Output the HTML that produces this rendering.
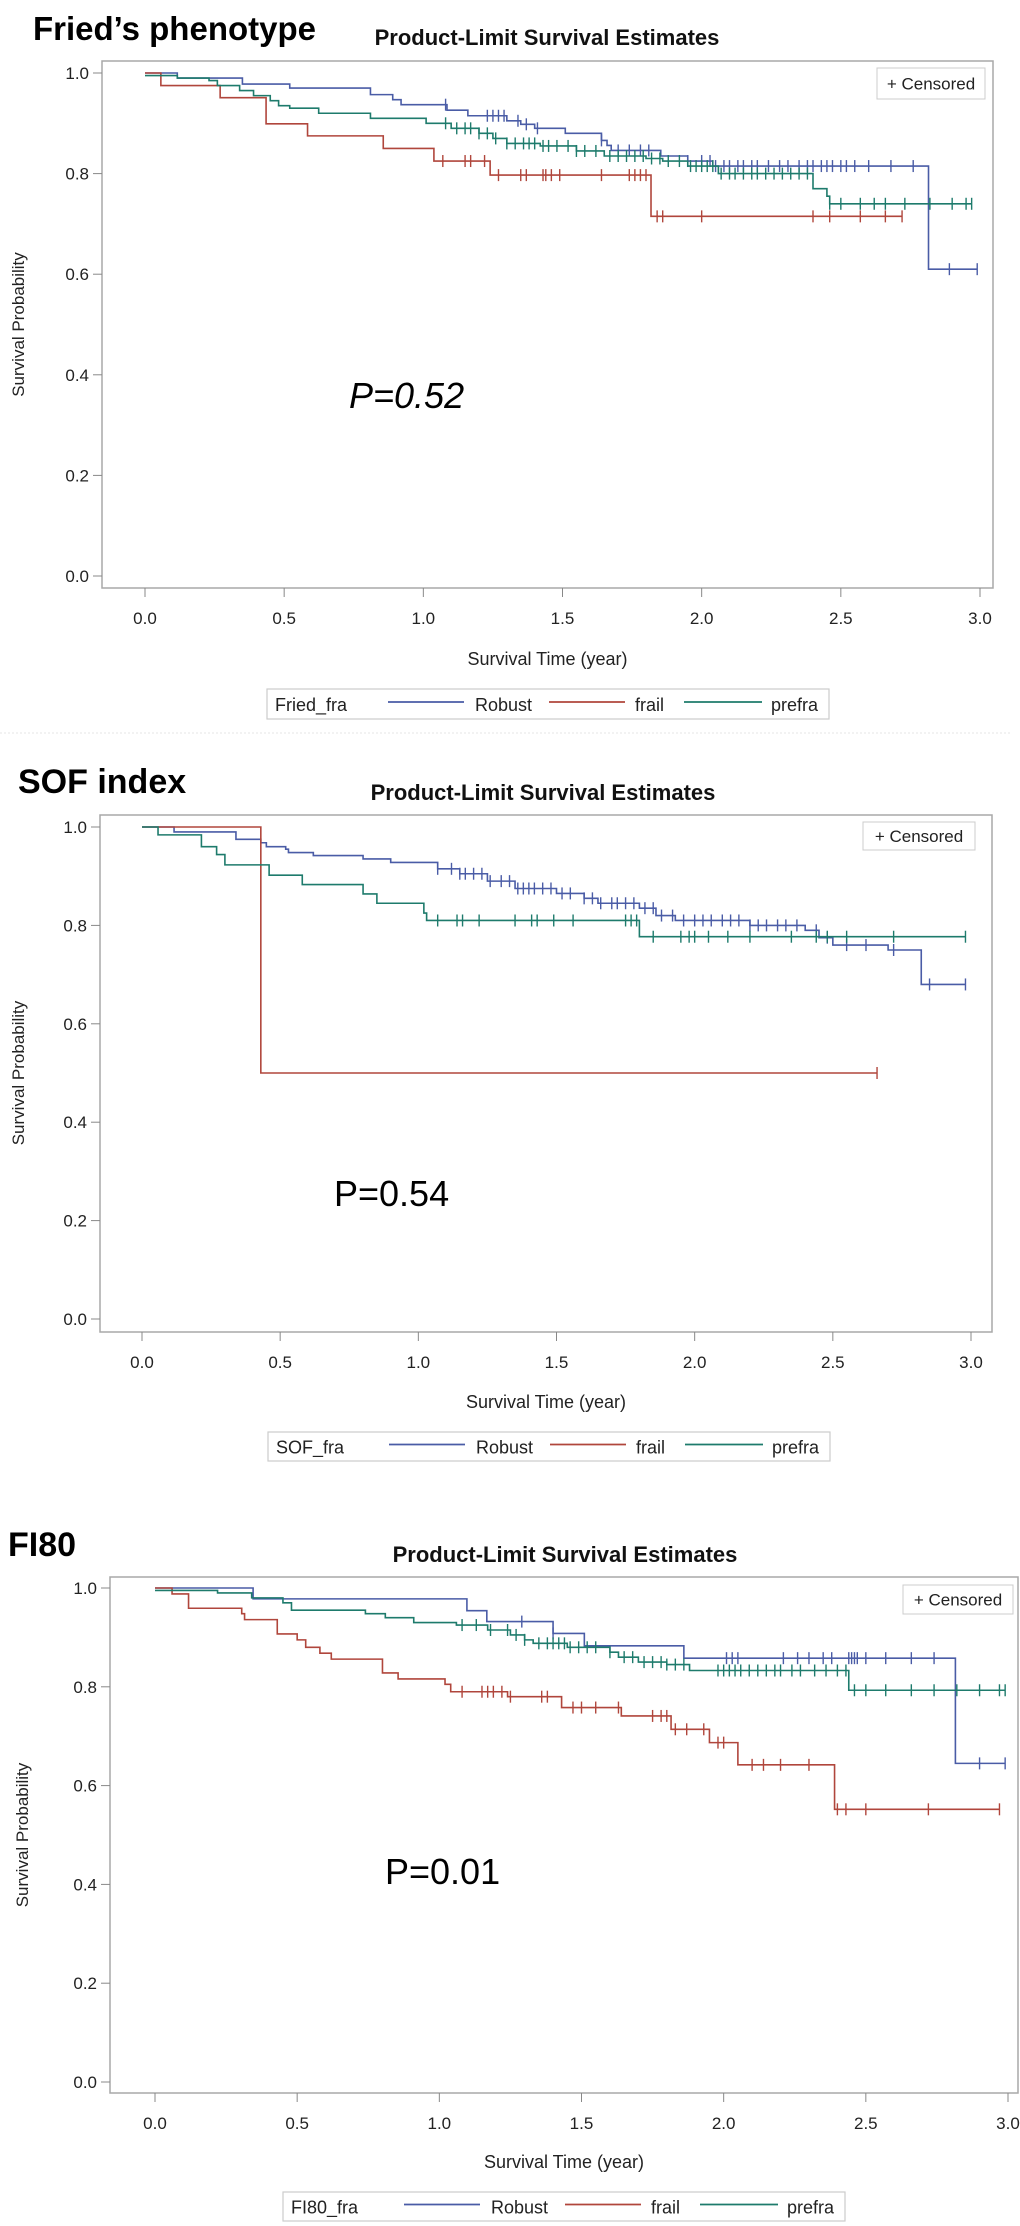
<!DOCTYPE html>
<html><head><meta charset="utf-8"><style>
body{margin:0;background:#fff;width:1020px;height:2226px;overflow:hidden}
svg{display:block}
text{font-family:"Liberation Sans",sans-serif}
</style></head><body>
<svg id="fig" width="1020" height="2226" viewBox="0 0 1020 2226" xmlns="http://www.w3.org/2000/svg"></svg>
<script>
// ---- Panel 1: Fried's phenotype ----
const friedRobustT=[0,0.116,0.35,0.52,0.81,0.89,0.92,1.085,1.16,1.3,1.35,1.40,1.51,1.64,1.66,1.675,1.853,1.95,2.04,2.815];
const friedRobustS=[1,0.99,0.978,0.97,0.957,0.947,0.937,0.926,0.915,0.905,0.898,0.89,0.88,0.866,0.856,0.846,0.835,0.825,0.815,0.61];
const friedRobustC=[1.08,1.23,1.25,1.27,1.29,1.34,1.37,1.41,1.64,1.70,1.74,1.78,1.81,1.95,2.0,2.03,2.05,2.08,2.1,2.13,2.15,2.18,2.2,2.24,2.28,2.31,2.35,2.38,2.4,2.43,2.45,2.47,2.5,2.52,2.55,2.6,2.68,2.76,2.89,2.99];
const friedFrailT=[0,0.057,0.27,0.435,0.584,0.856,1.038,1.24,1.818];
const friedFrailS=[1,0.975,0.951,0.899,0.875,0.85,0.825,0.797,0.715];
const friedFrailC=[1.07,1.15,1.17,1.22,1.27,1.35,1.37,1.43,1.44,1.46,1.49,1.64,1.74,1.76,1.78,1.80,1.84,1.86,2.0,2.4,2.46,2.57,2.66,2.72];
const friedPrefT=[0,0.116,0.23,0.26,0.34,0.39,0.45,0.48,0.52,0.624,0.81,1.01,1.1,1.2,1.25,1.3,1.42,1.55,1.65,1.8,1.86,1.95,2.06,2.4,2.45,2.46];
const friedPrefS=[0.995,0.99,0.985,0.975,0.965,0.955,0.945,0.935,0.93,0.92,0.91,0.90,0.89,0.88,0.87,0.86,0.855,0.845,0.835,0.83,0.825,0.815,0.80,0.77,0.755,0.74];
const friedPrefC=[1.08,1.12,1.15,1.17,1.2,1.23,1.26,1.3,1.33,1.36,1.38,1.4,1.43,1.45,1.48,1.52,1.55,1.58,1.62,1.67,1.7,1.73,1.76,1.79,1.82,1.85,1.88,1.92,1.96,1.98,2.0,2.02,2.04,2.07,2.1,2.12,2.15,2.18,2.2,2.23,2.26,2.29,2.32,2.35,2.38,2.46,2.5,2.57,2.62,2.66,2.73,2.82,2.9,2.95,2.97];
// ---- Panel 2: SOF index ----
const sofRobustT=[0,0.116,0.34,0.43,0.45,0.52,0.53,0.62,0.80,0.90,1.07,1.15,1.25,1.35,1.5,1.6,1.65,1.8,1.86,1.93,2.2,2.4,2.45,2.5,2.7,2.82];
const sofRobustS=[1,0.99,0.975,0.968,0.96,0.955,0.948,0.942,0.935,0.928,0.915,0.905,0.89,0.875,0.865,0.855,0.845,0.835,0.82,0.81,0.80,0.79,0.775,0.76,0.75,0.68];
const sofRobustC=[1.07,1.12,1.15,1.17,1.2,1.23,1.26,1.3,1.33,1.36,1.38,1.4,1.42,1.45,1.48,1.52,1.55,1.6,1.63,1.66,1.7,1.72,1.75,1.78,1.82,1.85,1.88,1.92,1.96,2.0,2.03,2.06,2.1,2.13,2.16,2.2,2.23,2.26,2.3,2.33,2.37,2.44,2.48,2.55,2.62,2.72,2.85,2.98];
const sofFrailT=[0,0.43];
const sofFrailS=[1,0.5];
const sofFrailC=[2.66];
const sofPrefT=[0,0.058,0.215,0.27,0.30,0.46,0.58,0.80,0.85,1.02,1.03,1.80];
const sofPrefS=[1,0.984,0.96,0.944,0.923,0.902,0.883,0.864,0.845,0.825,0.81,0.777];
const sofPrefC=[1.07,1.14,1.16,1.22,1.35,1.41,1.43,1.49,1.56,1.75,1.77,1.79,1.85,1.95,1.98,2.0,2.05,2.12,2.2,2.35,2.44,2.48,2.55,2.72,2.98];
// ---- Panel 3: FI80 ----
const fiRobustT=[0,0.345,1.097,1.167,1.40,1.51,1.86,2.815];
const fiRobustS=[1,0.978,0.954,0.932,0.908,0.883,0.858,0.645];
const fiRobustC=[1.29,1.40,2.01,2.03,2.05,2.21,2.26,2.3,2.35,2.38,2.44,2.45,2.46,2.47,2.5,2.57,2.66,2.74,2.9,2.99];
const fiFrailT=[0,0.06,0.118,0.305,0.315,0.43,0.5,0.53,0.58,0.62,0.80,0.855,1.02,1.04,1.24,1.43,1.64,1.815,1.95,2.05,2.39];
const fiFrailS=[1,0.988,0.959,0.948,0.936,0.907,0.895,0.88,0.868,0.856,0.828,0.816,0.805,0.79,0.78,0.758,0.741,0.714,0.687,0.642,0.552];
const fiFrailC=[1.08,1.15,1.17,1.19,1.22,1.25,1.36,1.38,1.47,1.5,1.55,1.63,1.75,1.78,1.8,1.83,1.87,1.93,1.98,2.0,2.1,2.14,2.2,2.3,2.4,2.43,2.5,2.72,2.97];
const fiPrefT=[0,0.22,0.34,0.45,0.48,0.74,0.81,0.91,1.06,1.17,1.25,1.3,1.33,1.45,1.6,1.63,1.7,1.8,1.88,2.44];
const fiPrefS=[0.995,0.99,0.98,0.97,0.955,0.948,0.94,0.93,0.925,0.915,0.905,0.895,0.888,0.88,0.87,0.86,0.85,0.845,0.833,0.793];
const fiPrefC=[1.08,1.13,1.18,1.24,1.27,1.3,1.35,1.38,1.4,1.42,1.44,1.46,1.49,1.52,1.55,1.6,1.65,1.68,1.72,1.75,1.78,1.8,1.83,1.86,1.98,2.0,2.02,2.04,2.06,2.09,2.12,2.15,2.18,2.2,2.24,2.27,2.32,2.36,2.4,2.43,2.46,2.5,2.57,2.66,2.74,2.82,2.9,2.97,2.99];
// labels
const xTicks=[0,0.5,1.0,1.5,2.0,2.5,3.0];
const yTicks=[0,0.2,0.4,0.6,0.8,1.0];
const seriesNames=["Robust","frail","prefra"];

const NS="http://www.w3.org/2000/svg";
const svg=document.getElementById('fig');
const COLORS=["#4a5ca6","#b0463c","#1e7b6c"];
function mk(tag,attrs,parent){const e=document.createElementNS(NS,tag);for(const k in attrs)e.setAttribute(k,attrs[k]);(parent||svg).appendChild(e);return e;}
function txt(s,attrs,parent){const e=mk('text',attrs,parent);e.textContent=s;return e;}
function survAt(T,S,t){let v=S[0];for(let i=0;i<T.length;i++){if(T[i]<=t)v=S[i];}return v;}

function panel(L,series,title,legendName,pText,pItalic,slug){
  const g=mk('g',{});
  
  
  const sx=t=>L.x0+(L.x3-L.x0)*t/3;
  const sy=v=>L.y0+(L.y1-L.y0)*v;
  const tt=txt(title,{x:L.tx,y:L.ty,'font-size':L.tfs,'font-weight':'bold',fill:'#000'},g);
  
  
  const st=txt('Product-Limit Survival Estimates',{x:L.sx,y:L.sty,'font-size':22,'font-weight':'bold','text-anchor':'middle',fill:'#111'},g);
  
  
  const fr=mk('rect',{x:L.fx1,y:L.fy1,width:L.fx2-L.fx1,height:L.fy2-L.fy1,fill:'none',stroke:'#a8a8a8','stroke-width':1.5},g);
  
  
  yTicks.forEach(v=>{
    mk('line',{x1:L.fx1-9,x2:L.fx1,y1:sy(v),y2:sy(v),stroke:'#888','stroke-width':1},g);
    const l=txt(v.toFixed(1),{x:L.fx1-13,y:sy(v)+6,'font-size':17,'text-anchor':'end',fill:'#222'},g);
    
    
  });
  xTicks.forEach(v=>{
    mk('line',{x1:sx(v),x2:sx(v),y1:L.fy2,y2:L.fy2+9,stroke:'#888','stroke-width':1},g);
    const l=txt(v.toFixed(1),{x:sx(v),y:L.xly+6,'font-size':17,'text-anchor':'middle',fill:'#222'},g);
    
    
  });
  const xt=txt('Survival Time (year)',{x:(L.fx1+L.fx2)/2,y:L.xty+6,'font-size':18,'text-anchor':'middle',fill:'#222'},g);
  
  
  const yc=(L.y0+L.y1)/2;
  const yt=txt('Survival Probability',{x:L.ytx,y:yc,'font-size':17,'text-anchor':'middle',fill:'#222',transform:`rotate(-90 ${L.ytx} ${yc})`},g);
  
  
  const cb=mk('rect',{x:L.cx1,y:L.cy1,width:L.cx2-L.cx1,height:L.cy2-L.cy1,fill:'#fff',stroke:'#ccc','stroke-width':1},g);
  
  
  txt('+ Censored',{x:(L.cx1+L.cx2)/2,y:(L.cy1+L.cy2)/2+6,'font-size':17,'text-anchor':'middle',fill:'#222'},g);
  series.forEach((s,i)=>{
    let d=`M${sx(s.T[0])},${sy(s.S[0])}`;
    for(let k=1;k<s.T.length;k++){d+=` H${sx(s.T[k])} V${sy(s.S[k])}`;}
    const tmax=Math.max(s.C.length?Math.max(...s.C):0,s.T[s.T.length-1]);
    d+=` H${sx(tmax)}`;
    const p=mk('path',{d:d,fill:'none',stroke:COLORS[i],'stroke-width':1.6},g);
    
    
    s.C.forEach(c=>{
      const y=sy(survAt(s.T,s.S,c));
      const m=mk('line',{x1:sx(c),x2:sx(c),y1:y-6,y2:y+6,stroke:COLORS[i],'stroke-width':1.4},g);
      
      
    });
  });
  const pt=txt(pText,{x:L.px,y:L.py,'font-size':36,'font-style':pItalic?'italic':'normal',fill:'#000'},g);
  
  
  const lx=L.lx, ly1=L.ly1, ly2=L.ly2, lm=(ly1+ly2)/2;
  const lb=mk('rect',{x:lx,y:ly1,width:562,height:ly2-ly1,fill:'#fff',stroke:'#ccc','stroke-width':1.2},g);
  
  
  txt(legendName,{x:lx+8,y:lm+7,'font-size':18,fill:'#222'},g);
  const offs=[[121,197,208],[282,358,368],[417,495,504]];
  offs.forEach((o,i)=>{
    const ln=mk('line',{x1:lx+o[0],x2:lx+o[1],y1:lm-2,y2:lm-2,stroke:COLORS[i],'stroke-width':1.8},g);
    
    
    const lt=txt(seriesNames[i],{x:lx+o[2],y:lm+7,'font-size':18,fill:'#222'},g);
    
    
  });
}

panel({fx1:102,fy1:61,fx2:993,fy2:588,x0:145,x3:980,y1:73,y0:576,tx:33,ty:40,tfs:33,sx:547,sty:45,xly:618,xty:659,ytx:24,
  cx1:877,cy1:68,cx2:985,cy2:99,px:349,py:408,lx:267,ly1:689,ly2:719},
  [{T:friedRobustT,S:friedRobustS,C:friedRobustC},{T:friedFrailT,S:friedFrailS,C:friedFrailC},{T:friedPrefT,S:friedPrefS,C:friedPrefC}],
  "Fried\u2019s phenotype","Fried_fra","P=0.52",true,"fried");
const sep=mk('line',{x1:0,x2:1010,y1:733,y2:733,stroke:'#e4e4e4','stroke-width':1,'stroke-dasharray':'2 2'});


panel({fx1:100,fy1:815,fx2:992,fy2:1332,x0:142,x3:971,y1:827,y0:1319,tx:18,ty:793,tfs:34,sx:543,sty:800,xly:1362,xty:1402,ytx:24,
  cx1:863,cy1:822,cx2:975,cy2:850,px:334,py:1206,lx:268,ly1:1432,ly2:1461},
  [{T:sofRobustT,S:sofRobustS,C:sofRobustC},{T:sofFrailT,S:sofFrailS,C:sofFrailC},{T:sofPrefT,S:sofPrefS,C:sofPrefC}],
  "SOF index","SOF_fra","P=0.54",false,"sof");
panel({fx1:110,fy1:1577,fx2:1018,fy2:2093,x0:155,x3:1008,y1:1588,y0:2082,tx:8,ty:1556,tfs:34,sx:565,sty:1562,xly:2123,xty:2162,ytx:28,
  cx1:903,cy1:1585,cx2:1013,cy2:1614,px:385,py:1884,lx:283,ly1:2192,ly2:2221},
  [{T:fiRobustT,S:fiRobustS,C:fiRobustC},{T:fiFrailT,S:fiFrailS,C:fiFrailC},{T:fiPrefT,S:fiPrefS,C:fiPrefC}],
  "FI80","FI80_fra","P=0.01",false,"fi80");
</script>
</body></html>
